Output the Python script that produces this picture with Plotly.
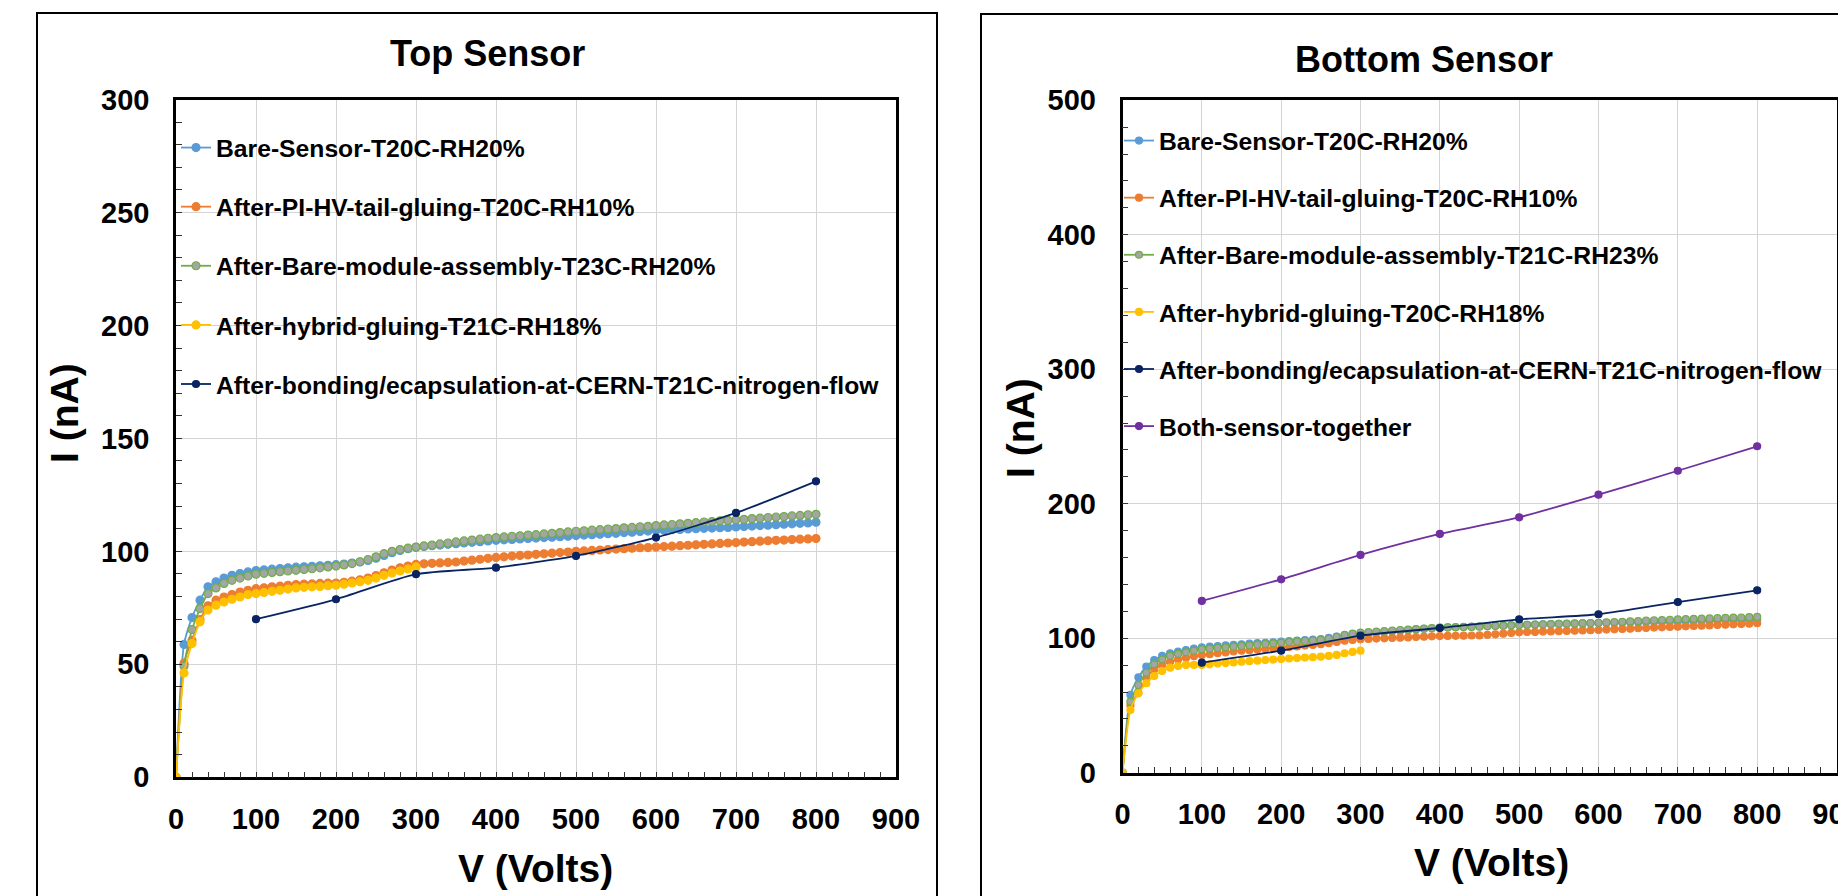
import plotly.graph_objects as go

W, H = 1900, 896   # figure is a bit wider than the 1838 px window: right panel runs off the edge

# ---------------- data ----------------
v_dense = list(range(0, 810, 10))
v_hyb = list(range(0, 310, 10))
v_sparse = [100, 200, 300, 400, 500, 600, 700, 800]

top_labels = [
    "Bare-Sensor-T20C-RH20%",
    "After-PI-HV-tail-gluing-T20C-RH10%",
    "After-Bare-module-assembly-T23C-RH20%",
    "After-hybrid-gluing-T21C-RH18%",
    "After-bonding/ecapsulation-at-CERN-T21C-nitrogen-flow",
]
bot_labels = [
    "Bare-Sensor-T20C-RH20%",
    "After-PI-HV-tail-gluing-T20C-RH10%",
    "After-Bare-module-assembly-T21C-RH23%",
    "After-hybrid-gluing-T20C-RH18%",
    "After-bonding/ecapsulation-at-CERN-T21C-nitrogen-flow",
    "Both-sensor-together",
]

top_bare = [0, 58.8, 70.7, 78.4, 84.3, 86.5, 88.2, 89.4, 90.2, 90.9,
            91.5, 91.8, 92.1, 92.4, 92.7, 93.0, 93.2, 93.4, 93.6, 93.8,
            94.1, 94.4, 94.8, 95.3, 96.0, 97.0, 98.2, 99.4, 100.4, 101.2,
            101.8, 102.2, 102.5, 102.8, 103.1, 103.4, 103.7, 104.0, 104.3, 104.6,
            104.9, 105.1, 105.3, 105.5, 105.7, 105.9, 106.1, 106.3, 106.5, 106.7,
            107.0, 107.2, 107.4, 107.6, 107.8, 108.0, 108.3, 108.5, 108.8, 109.0,
            109.3, 109.4, 109.6, 109.7, 109.9, 110.0, 110.2, 110.3, 110.5, 110.6,
            110.8, 111.0, 111.2, 111.4, 111.6, 111.8, 112.0, 112.2, 112.4, 112.6,
            112.9]
top_tail = [0, 50.5, 60.7, 69.8, 75.9, 78.4, 79.8, 80.9, 82.0, 82.8,
            83.5, 83.9, 84.3, 84.6, 85.0, 85.3, 85.5, 85.6, 85.8, 85.9,
            86.0, 86.3, 86.8, 87.4, 88.2, 89.3, 90.5, 91.7, 92.7, 93.5,
            94.2, 94.5, 94.7, 94.9, 95.1, 95.3, 95.7, 96.1, 96.5, 96.9,
            97.3, 97.6, 97.9, 98.2, 98.4, 98.7, 98.9, 99.2, 99.5, 99.7,
            100.0, 100.2, 100.4, 100.6, 100.8, 101.0, 101.2, 101.4, 101.6, 101.7,
            101.9, 102.1, 102.3, 102.5, 102.7, 102.9, 103.1, 103.3, 103.5, 103.7,
            103.9, 104.1, 104.3, 104.5, 104.7, 104.9, 105.0, 105.2, 105.4, 105.5,
            105.7]
top_module = [0, 49.3, 65.4, 74.7, 81.3, 83.8, 85.8, 87.2, 88.2, 89.1,
              89.9, 90.3, 90.7, 91.0, 91.3, 91.6, 92.0, 92.3, 92.7, 93.1,
              93.5, 94.0, 94.6, 95.4, 96.4, 97.6, 99.0, 100.0, 100.8, 101.4,
              101.9, 102.4, 102.8, 103.3, 103.7, 104.2, 104.6, 105.0, 105.4, 105.8,
              106.1, 106.4, 106.7, 106.9, 107.2, 107.4, 107.7, 108.0, 108.3, 108.6,
              108.9, 109.1, 109.4, 109.6, 109.9, 110.1, 110.4, 110.6, 110.9, 111.1,
              111.4, 111.7, 111.9, 112.2, 112.4, 112.7, 113.0, 113.2, 113.5, 113.7,
              114.0, 114.2, 114.5, 114.7, 115.0, 115.2, 115.4, 115.7, 115.9, 116.2,
              116.4]
top_hybrid = [0, 46.2, 59.2, 68.8, 74.0, 76.2, 77.6, 78.8, 79.8, 80.9,
              81.3, 81.8, 82.3, 82.8, 83.3, 83.8, 84.1, 84.3, 84.5, 84.8,
              85.0, 85.5, 86.0, 86.5, 87.2, 88.2, 89.4, 90.4, 91.3, 92.2,
              93.1]
top_cern = [70.0, 78.8, 89.9, 92.8, 98.0, 106.1, 117.0, 131.0]

bot_bare = [0, 57.8, 70.9, 78.8, 83.8, 86.8, 88.8, 90.0, 91.2, 92.3,
            93.2, 93.7, 94.1, 94.6, 95.0, 95.5, 95.9, 96.3, 96.6, 97.0,
            97.4, 97.8, 98.2, 98.6, 99.0, 99.4, 100.2, 101.2, 102.2, 103.0,
            103.6, 104.0, 104.4, 104.8, 105.2, 105.6, 106.0, 106.5, 107.0, 107.4,
            107.8, 108.0, 108.2, 108.4, 108.6, 108.8, 109.0, 109.2, 109.4, 109.6,
            109.8, 110.0, 110.1, 110.3, 110.4, 110.6, 110.7, 110.9, 111.0, 111.2,
            111.3, 111.4, 111.5, 111.6, 111.8, 111.9, 112.0, 112.1, 112.2, 112.4,
            112.5, 112.6, 112.8, 112.9, 113.0, 113.1, 113.3, 113.4, 113.5, 113.7,
            113.8]
bot_tail = [0, 50.0, 59.5, 70.2, 76.9, 80.1, 82.5, 84.1, 85.5, 86.6,
            87.5, 88.1, 88.8, 89.4, 90.1, 90.7, 91.1, 91.6, 92.0, 92.5,
            92.9, 93.4, 93.9, 94.5, 95.0, 95.5, 96.3, 97.2, 98.1, 98.7,
            99.2, 99.4, 99.7, 99.9, 100.2, 100.4, 100.6, 100.9, 101.1, 101.4,
            101.6, 101.7, 101.8, 101.9, 102.0, 102.1, 102.5, 102.9, 103.4, 103.9,
            104.4, 104.6, 104.7, 104.9, 105.0, 105.2, 105.4, 105.6, 105.8, 105.9,
            106.1, 106.4, 106.6, 106.9, 107.1, 107.4, 107.6, 107.9, 108.1, 108.4,
            108.6, 108.8, 109.1, 109.3, 109.5, 109.8, 110.0, 110.3, 110.5, 110.8,
            111.1]
bot_module = [0, 52.8, 65.2, 74.3, 80.6, 84.3, 86.8, 88.3, 89.5, 90.7,
              91.7, 92.2, 92.7, 93.2, 93.7, 94.2, 94.7, 95.2, 95.7, 96.2,
              96.7, 97.1, 97.5, 97.9, 98.3, 98.7, 99.6, 101.0, 102.4, 103.4,
              104.1, 104.5, 104.9, 105.3, 105.7, 106.1, 106.4, 106.8, 107.1, 107.5,
              107.8, 108.0, 108.1, 108.3, 108.4, 108.6, 108.8, 109.1, 109.3, 109.6,
              109.8, 110.0, 110.1, 110.3, 110.5, 110.7, 110.8, 111.0, 111.2, 111.3,
              111.5, 111.7, 112.0, 112.2, 112.5, 112.7, 113.0, 113.2, 113.5, 113.7,
              114.0, 114.2, 114.4, 114.5, 114.7, 114.9, 115.1, 115.3, 115.4, 115.6,
              115.8]
bot_hybrid = [0, 46.6, 59.0, 66.5, 71.9, 75.6, 78.1, 79.3, 80.1, 80.1,
              80.1, 80.6, 81.1, 81.5, 82.0, 82.5, 82.9, 83.3, 83.7, 84.1,
              84.5, 84.9, 85.2, 85.6, 85.9, 86.3, 86.8, 87.6, 88.8, 89.8,
              90.7]
bot_cern = [81.8, 90.7, 101.9, 107.6, 114.0, 117.8, 126.9, 135.6]
bot_both = [127.7, 143.8, 161.9, 177.5, 189.9, 206.7, 224.5, 242.7]

x_ticks = [0, 100, 200, 300, 400, 500, 600, 700, 800, 900]
top_y_ticks = [0, 50, 100, 150, 200, 250, 300]
bot_y_ticks = [0, 100, 200, 300, 400, 500]

# ---------------- styling ----------------
C_BLUE = "#5b9bd5"
C_ORANGE = "#ed7d31"
C_GREEN = "#70ad47"
C_GRAY = "#a5a5a5"
C_YELLOW = "#ffc000"
C_NAVY = "#0a2463"
C_PURPLE = "#7030a0"
FONT = "Liberation Sans, Arial, sans-serif"


def xp(px):
    return px / W


def yp(py):
    return 1 - py / H


fig = go.Figure()

styles = [
    dict(line=C_BLUE, fill=C_BLUE, edge=C_BLUE),
    dict(line=C_ORANGE, fill=C_ORANGE, edge=C_ORANGE),
    dict(line=C_GREEN, fill=C_GRAY, edge=C_GREEN),
    dict(line=C_YELLOW, fill=C_YELLOW, edge=C_YELLOW),
    dict(line=C_NAVY, fill=C_NAVY, edge=C_NAVY),
    dict(line=C_PURPLE, fill=C_PURPLE, edge=C_PURPLE),
]


def add(xs, ys, name, st, axis, legend, group, msize=8):
    fig.add_trace(go.Scatter(
        x=xs, y=ys, name=name, mode="lines+markers",
        line=dict(color=st["line"], width=1.8, shape="spline", smoothing=0.6),
        marker=dict(color=st["fill"], size=msize,
                    line=dict(color=st["edge"], width=1.2)),
        xaxis="x" if axis == 1 else "x2",
        yaxis="y" if axis == 1 else "y2",
        legend=legend, legendgroup=group,
    ))


top_series = [(v_dense, top_bare), (v_dense, top_tail), (v_dense, top_module),
              (v_hyb, top_hybrid), (v_sparse, top_cern)]
for i, (xs, ys) in enumerate(top_series):
    add(xs, ys, top_labels[i], styles[i], 1, "legend", "t%d" % i,
        msize=7 if i == 4 else 8)

bot_series = [(v_dense, bot_bare), (v_dense, bot_tail), (v_dense, bot_module),
              (v_hyb, bot_hybrid), (v_sparse, bot_cern), (v_sparse, bot_both)]
for i, (xs, ys) in enumerate(bot_series):
    add(xs, ys, bot_labels[i], styles[i], 2, "legend2", "b%d" % i, msize=7)

tickfont = dict(family=FONT, size=29, color="black", weight="bold")


def xaxis_cfg(domain, anchor):
    return dict(
        domain=domain, anchor=anchor, range=[0, 900], tickvals=x_ticks,
        showgrid=True, gridcolor="#d4d4d4", gridwidth=1.2,
        showline=True, linecolor="black", linewidth=2.5, mirror=True,
        ticks="inside", ticklen=6, tickcolor="#333", tickwidth=1.2,
        minor=dict(dtick=20, tick0=0, ticks="inside", ticklen=6,
                   tickcolor="#333", tickwidth=1.2, showgrid=False),
        tickfont=tickfont, ticklabelstandoff=14, zeroline=False,
        fixedrange=True, automargin=False,
    )


def yaxis_cfg(domain, anchor, rng, ticks, minor):
    return dict(
        domain=domain, anchor=anchor, range=rng, tickvals=ticks,
        showgrid=True, gridcolor="#d4d4d4", gridwidth=1.2,
        showline=True, linecolor="black", linewidth=2.5, mirror=True,
        ticks="inside", ticklen=6, tickcolor="#333", tickwidth=1.2,
        minor=dict(dtick=minor, tick0=0, ticks="inside", ticklen=6,
                   tickcolor="#333", tickwidth=1.2, showgrid=False),
        tickfont=tickfont, ticklabelstandoff=18, zeroline=False,
        fixedrange=True, automargin=False,
    )


legend_font = dict(family=FONT, size=24.7, color="black", weight="bold")

fig.update_layout(
    width=W, height=H, autosize=False,
    margin=dict(l=0, r=0, t=0, b=0, pad=0),
    paper_bgcolor="white", plot_bgcolor="white",
    showlegend=True,
    xaxis=xaxis_cfg([xp(176), xp(896)], "y"),
    yaxis=yaxis_cfg([yp(777.3), yp(99.5)], "x", [0, 300], top_y_ticks, 10),
    xaxis2=xaxis_cfg([xp(1122.5), xp(1836.5)], "y2"),
    yaxis2=yaxis_cfg([yp(772.7), yp(100.2)], "x2", [0, 500], bot_y_ticks, 20),
    legend=dict(x=xp(176), y=yp(125), xanchor="left", yanchor="top",
                bgcolor="rgba(0,0,0,0)", font=legend_font,
                tracegroupgap=24, itemwidth=30),
    legend2=dict(x=xp(1119), y=yp(118), xanchor="left", yanchor="top",
                 bgcolor="rgba(0,0,0,0)", font=legend_font,
                 tracegroupgap=22, itemwidth=30),
)

ann_font_title = dict(family=FONT, size=36, color="black", weight="bold")
ann_font_axis = dict(family=FONT, size=39, color="black", weight="bold")

annotations = [
    dict(text="Top Sensor", x=xp(487), y=yp(54), font=ann_font_title),
    dict(text="Bottom Sensor", x=xp(1424), y=yp(60), font=ann_font_title),
    dict(text="I (nA)", x=xp(64), y=yp(413), font=ann_font_axis, textangle=-90),
    dict(text="I (nA)", x=xp(1020), y=yp(428), font=ann_font_axis, textangle=-90),
    dict(text="V (Volts)", x=xp(535), y=yp(868), font=ann_font_axis),
    dict(text="V (Volts)", x=xp(1491), y=yp(862), font=ann_font_axis),
]
for a in annotations:
    fig.add_annotation(xref="paper", yref="paper", xanchor="center",
                       yanchor="middle", showarrow=False, **a)

# chart frames (the two pasted chart boxes)
fig.add_shape(type="rect", xref="paper", yref="paper",
              x0=xp(37), x1=xp(937), y0=yp(930), y1=yp(13),
              line=dict(color="black", width=2), layer="below")
fig.add_shape(type="rect", xref="paper", yref="paper",
              x0=xp(981), x1=xp(1890), y0=yp(930), y1=yp(14),
              line=dict(color="black", width=2), layer="below")

fig.write_html(
    "out.html",
    config={"displayModeBar": False},
    post_script=(
        "document.documentElement.style.margin='0';"
        "document.documentElement.style.overflow='hidden';"
        "document.body.style.margin='0';"
        "document.body.style.overflow='hidden';"
        "var d=document.getElementById('{plot_id}');"
        "d.style.position='fixed';d.style.left='0';d.style.top='0';"
    ),
)
